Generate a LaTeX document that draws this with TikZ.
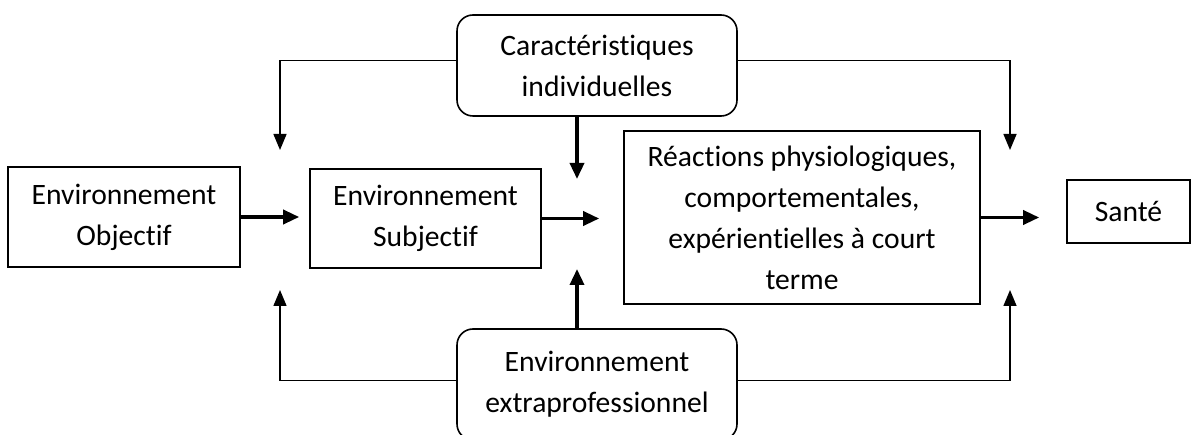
\documentclass[tikz,border=0pt]{standalone}
\usepackage{fontspec}
\setmainfont{Carlito}[Ligatures=NoCommon]
\usetikzlibrary{arrows.meta}
\begin{document}
\begin{tikzpicture}[x=1pt,y=-1pt,
    box/.style={draw,line width=1.6pt,align=center,inner sep=0pt,font=\fontsize{29.6}{41}\selectfont},
    rbox/.style={box,rounded corners=16pt},
    main/.style={line width=3.5pt,-{Triangle[length=16pt,width=14pt]}},
    fb/.style={line width=1.5pt,-{Triangle[length=16pt,width=13pt]}}]
    \useasboundingbox (0,0) rectangle (1193,435);
    \clip (0,0) rectangle (1193,435);

    \node[box,minimum width=232pt,minimum height=100pt] (obj) at (124,217) {Environnement\\Objectif};
    \node[box,minimum width=231pt,minimum height=99pt] (subj) at (425.5,218.5) {Environnement\\Subjectif};
    \node[box,minimum width=356pt,minimum height=173pt] (react) at (802,217.5) {R\'eactions physiologiques,\\comportementales,\\exp\'erientielles \`a court\\terme};
    \node[box,minimum width=123pt,minimum height=63pt] (sante) at (1128.5,211.5) {Sant\'e};
    \node[rbox,minimum width=280pt,minimum height=101pt] (carac) at (597,65.5) {Caract\'eristiques\\individuelles};
    \node[rbox,minimum width=280pt,minimum height=111pt] (extra) at (597,384.5) {Environnement\\extraprofessionnel};

    \coordinate (cdown) at (577,179);
    \coordinate (eup) at (577,269);
    \coordinate (tl) at (280,150);
    \coordinate (tr) at (1010,150);
    \coordinate (bl) at (280,290);
    \coordinate (br) at (1010,290);

    \draw[main,shorten >=10pt] (obj.east) -- (obj.east -| subj.west);
    \draw[main,shorten >=24pt] (subj.east) -- (subj.east -| react.west);
    \draw[main,shorten >=27pt] (react.east) -- (react.east -| sante.west);
    \draw[main] (carac.south -| cdown) -- (cdown);
    \draw[main] (extra.north -| eup) -- (eup);

    \draw[fb] ([yshift=5pt]carac.west) -| (tl);
    \draw[fb] ([yshift=5pt]carac.east) -| (tr);
    \draw[fb] ([yshift=4pt]extra.west) -| (bl);
    \draw[fb] ([yshift=4pt]extra.east) -| (br);
\end{tikzpicture}
\end{document}
